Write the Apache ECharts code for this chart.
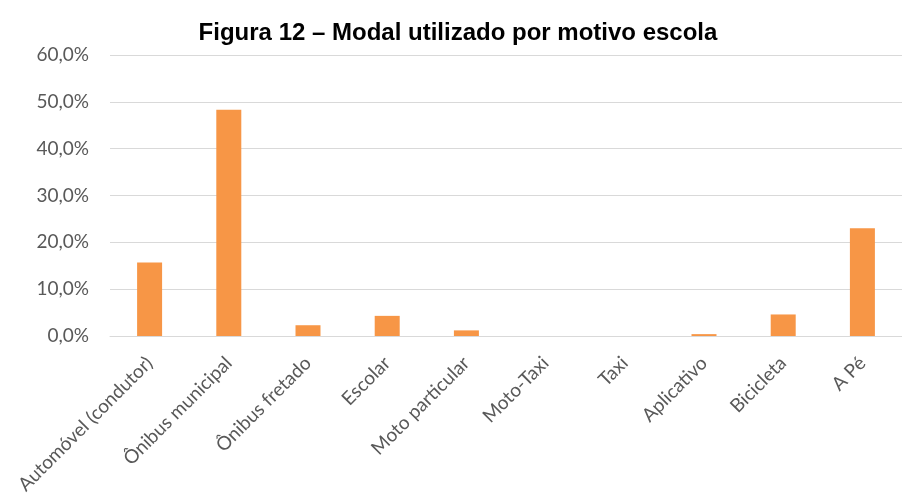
<!DOCTYPE html>
<html>
<head>
<meta charset="utf-8">
<script src="https://cdn.jsdelivr.net/npm/echarts@6/dist/echarts.min.js"></script>
<style>
  html, body { margin: 0; padding: 0; background: #fff; }
  #chart { width: 902px; height: 498px; }
</style>
</head>
<body>
<div id="chart"></div>
<script>
// categorias (modal)
var categorias = ['Automóvel (condutor)', 'Ônibus municipal', 'Ônibus fretado', 'Escolar',
  'Moto particular', 'Moto-Taxi', 'Taxi', 'Aplicativo', 'Bicicleta', 'A Pé'];
// percentual por modal
var valores = [15.7, 48.3, 2.3, 4.3, 1.2, 0, 0, 0.4, 4.6, 23.0];
// eixo Y
var eixoMin = 0;
var eixoMax = 60;
var eixoPasso = 10;

var chart = echarts.init(document.getElementById('chart'));

function fmtPct(v) {
  return v.toFixed(1).replace('.', ',') + '%';
}

var labelFont = 'Lato, "Open Sans", sans-serif';

var option = {
  animation: false,
  title: {
    text: 'Figura 12 – Modal utilizado por motivo escola',
    left: 453,
    textAlign: 'center',
    top: 16,
    textStyle: {
      fontFamily: '"Liberation Sans", Arial, sans-serif',
      fontWeight: 'bold',
      fontSize: 24,
      color: '#000'
    }
  },
  grid: {
    left: 110,
    right: -13,
    top: 55,
    bottom: 162,
    containLabel: false
  },
  xAxis: {
    type: 'category',
    data: categorias,
    axisLine: { lineStyle: { color: '#d9d9d9', width: 1 } },
    axisTick: { show: false },
    axisLabel: {
      rotate: 45,
      margin: 24,
      interval: 0,
      color: '#595959',
      fontFamily: labelFont,
      fontSize: 19
    }
  },
  yAxis: {
    type: 'value',
    min: eixoMin,
    max: eixoMax,
    interval: eixoPasso,
    axisLine: { show: false },
    axisTick: { show: false },
    splitLine: { lineStyle: { color: '#d9d9d9', width: 1 } },
    axisLabel: {
      margin: 21,
      color: '#595959',
      fontFamily: labelFont,
      fontSize: 19,
      formatter: fmtPct
    }
  },
  series: [{
    type: 'bar',
    data: valores,
    barWidth: 25,
    itemStyle: {
      color: '#f79646'
    }
  }]
};
chart.setOption(option);
</script>
</body>
</html>
